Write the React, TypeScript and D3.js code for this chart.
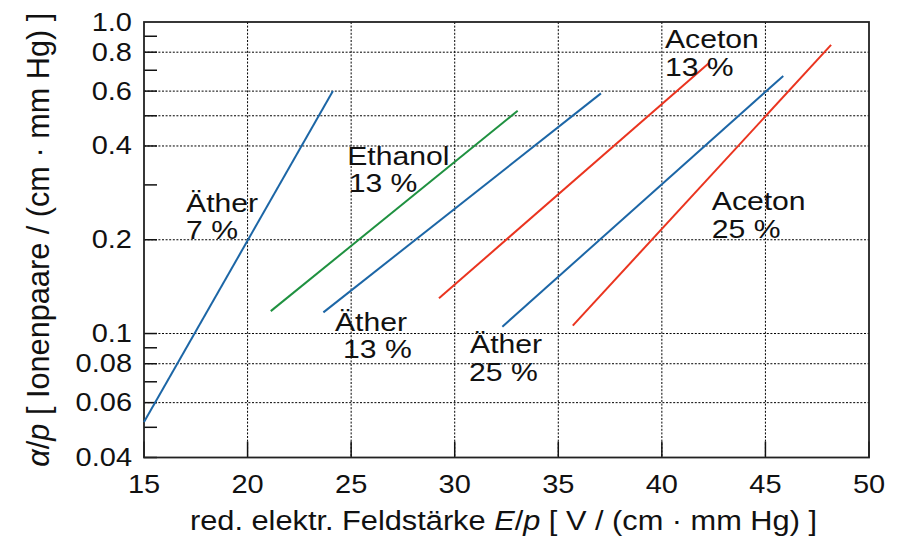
import React from "react";
import * as d3 from "d3";

const W = 900;
const H = 543;

// x / y domains and ticks
const xDomain = [15, 50];
const yDomain = [0.04, 1.0];
const xTicks = [15, 20, 25, 30, 35, 40, 45, 50];
const xGrid = [20, 25, 30, 35, 40, 45];
const yTickLabels = [1.0, 0.8, 0.6, 0.4, 0.2, 0.1, 0.08, 0.06, 0.04];
const yTickLabelText = ["1.0", "0.8", "0.6", "0.4", "0.2", "0.1", "0.08", "0.06", "0.04"];
const yGrid = [0.8, 0.6, 0.5, 0.4, 0.2, 0.1, 0.08, 0.06];
const yMinorTicks = [0.04, 0.05, 0.06, 0.07, 0.08, 0.09, 0.1, 0.2, 0.3, 0.4, 0.5, 0.6, 0.7, 0.8, 0.9];

// series (E/p, alpha/p)
const aether7X = [15.0, 24.12];
const aether7Y = [0.052, 0.6];
const ethanol13X = [21.12, 33.04];
const ethanol13Y = [0.118, 0.519];
const aether13X = [23.66, 37.06];
const aether13Y = [0.1169, 0.59];
const aceton13X = [29.24, 42.25];
const aceton13Y = [0.1297, 0.736];
const aether25X = [32.3, 45.86];
const aether25Y = [0.1052, 0.671];
const aceton25X = [35.7, 48.17];
const aceton25Y = [0.106, 0.844];

const BLUE = "#1c66a6";
const GREEN = "#1f9140";
const RED = "#ea341f";

const series = [
  { xs: aether7X, ys: aether7Y, color: BLUE },
  { xs: ethanol13X, ys: ethanol13Y, color: GREEN },
  { xs: aether13X, ys: aether13Y, color: BLUE },
  { xs: aceton13X, ys: aceton13Y, color: RED },
  { xs: aether25X, ys: aether25Y, color: BLUE },
  { xs: aceton25X, ys: aceton25Y, color: RED },
];

// annotation labels: anchor (data coords) of first line
const labelLines = [
  ["Äther", "7 %"],
  ["Ethanol", "13 %"],
  ["Äther", "13 %"],
  ["Äther", "25 %"],
  ["Aceton", "13 %"],
  ["Aceton", "25 %"],
];
const labelX = [17.03, 24.81, 24.22, 30.74, 40.15, 42.41];
const labelY = [0.2456, 0.348, 0.1021, 0.0864, 0.823, 0.249];
const labelSecondDx = [0, 1.5, 8, -1, 0, 0];

const FONT = "'Liberation Sans', Arial, Helvetica, sans-serif";
const SX = 1.16;

const left = 144;
const right = 869;
const top = 22;
const bottom = 457.5;

export default function App() {
  const x = d3.scaleLinear().domain(xDomain).range([left, right]);
  const y = d3.scaleLog().domain(yDomain).range([bottom, top]);
  const line = d3
    .line<[number, number]>()
    .x((d) => x(d[0]))
    .y((d) => y(d[1]));

  return (
    <svg width={W} height={H} style={{ position: "absolute", left: 0, top: 0, background: "#fff" }}>
      <rect x={0} y={0} width={W} height={H} fill="#fff" />
      {/* grid */}
      <g stroke="#000" strokeWidth={1} strokeDasharray="2 1.6">
        {xGrid.map((v) => (
          <line key={"gx" + v} x1={x(v)} x2={x(v)} y1={top} y2={bottom} />
        ))}
        {yGrid.map((v) => (
          <line key={"gy" + v} x1={left} x2={right} y1={y(v)} y2={y(v)} />
        ))}
      </g>
      {/* ticks */}
      <g stroke="#111" strokeWidth={1.5}>
        {yMinorTicks.map((v) => (
          <line key={"ty" + v} x1={left} x2={left + 13} y1={y(v)} y2={y(v)} />
        ))}
        {xTicks.map((v) => (
          <line key={"tx" + v} x1={x(v)} x2={x(v)} y1={bottom} y2={bottom - 16} />
        ))}
      </g>
      {/* frame */}
      <rect x={left} y={top} width={right - left} height={bottom - top} fill="none" stroke="#222" strokeWidth={1.8} />
      {/* series */}
      {series.map((s, i) => (
        <path
          key={"s" + i}
          d={line(s.xs.map((xv, j) => [xv, s.ys[j]] as [number, number])) || ""}
          fill="none"
          stroke={s.color}
          strokeWidth={2}
        />
      ))}
      {/* y tick labels */}
      <g fontFamily={FONT} fontSize={25} fill="#111">
        {yTickLabels.map((v, i) => (
          <text key={"yl" + v} transform={`translate(132,${y(v) + 8.5}) scale(${SX},1)`} textAnchor="end">
            {yTickLabelText[i]}
          </text>
        ))}
        {xTicks.map((v) => (
          <text key={"xl" + v} transform={`translate(${x(v)},${493}) scale(${SX},1)`} textAnchor="middle">
            {v}
          </text>
        ))}
      </g>
      {/* annotations */}
      <g fontFamily={FONT} fontSize={26} fill="#111">
        {labelLines.map((lines, i) => (
          <g key={"lab" + i}>
            <text transform={`translate(${x(labelX[i])},${y(labelY[i])}) scale(${SX},1)`}>{lines[0]}</text>
            <text transform={`translate(${x(labelX[i]) + labelSecondDx[i]},${y(labelY[i]) + 27.5}) scale(${SX},1)`}>
              {lines[1]}
            </text>
          </g>
        ))}
      </g>
      {/* axis titles */}
      <text
        x={503.5}
        y={530}
        fontFamily={FONT}
        fontSize={27}
        fill="#111"
        textAnchor="middle"
        textLength={627}
        lengthAdjust="spacingAndGlyphs"
      >
        red. elektr. Feldstärke <tspan fontStyle="italic">E</tspan>/<tspan fontStyle="italic">p</tspan> [ V / (cm · mm Hg) ]
      </text>
      <g transform={`translate(49,${(top + bottom) / 2}) scale(${SX},1) rotate(-90)`}>
        <text
          x={0}
          y={0}
          fontFamily={FONT}
          fontSize={27}
          fill="#111"
          textAnchor="middle"
          textLength={454}
          lengthAdjust="spacingAndGlyphs"
        >
          <tspan fontStyle="italic">α</tspan>/<tspan fontStyle="italic">p</tspan> [ Ionenpaare / (cm · mm Hg) ]
        </text>
      </g>
    </svg>
  );
}
